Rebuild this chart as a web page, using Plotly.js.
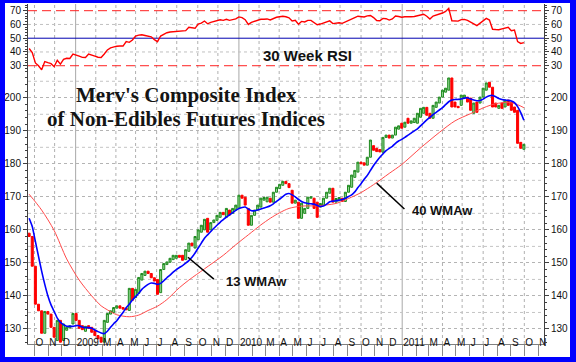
<!DOCTYPE html>
<html><head><meta charset="utf-8">
<script src="https://cdn.plot.ly/plotly-3.0.1.min.js"></script>
<style>
html,body{margin:0;padding:0;background:#fff;}
#frame{width:565px;height:354px;border-style:solid;border-color:#0000ff;border-width:3px 6px 5px 5px;background:#fff;}
#chart{width:565px;height:354px;}
</style></head><body><div id="frame"><div id="chart"></div></div>
<script>
// ---- data (weekly, first week ending 2008-09-19) ----
const firstWeek = '2008-09-19';
const opens = [159,158,149,137.5,135.5,128.7,135.3,134.5,130.5,126.5,
 132.6,126.5,129.6,130.3,131.5,134.7,132.6,131,129.3,131,
 130.5,129.5,128,127.5,126,132,134.5,135,136.3,137,
 136.5,136.3,135.6,142.3,139.5,140.8,144.8,146.2,147.5,146.8,
 145.5,145,141,148,149.5,150.2,151,151.4,152.3,152.3,
 151,153.5,156,154.5,157,159.3,160,163.5,160,162.2,
 162.9,163.8,165.3,163.8,166,165,166,166.5,170.5,169.9,
 166.5,161.4,164.4,166,166.9,169,168.5,169.6,168.4,171.4,
 172.5,173.5,174.7,174,172,168.1,168.4,163.5,165,166.5,
 169.6,169.6,168.4,166.9,167.5,169.6,171.1,172.6,168.4,168.8,
 169.6,168.6,171.4,172.9,175.9,177.5,180.5,180.3,179.6,182,
 185.5,184.7,184.3,183.5,188,188.7,187.8,188.7,190.5,192.3,
 191.1,193.8,192.3,192.5,192.3,194.1,195.3,197.1,195.3,193.8,
 197.1,198.4,200.2,201.7,202.3,206,198.7,197.4,197.7,199.9,
 200.2,199.9,195.3,198.7,198.4,200.2,202.3,204.7,203.2,198.4,
 196.8,198.4,197.2,199.3,198.7,197.2,196.2,186.5,184.4];
const closes = [158,149,137.5,135.5,128.7,135.3,134.5,130.5,127.5,132.6,
 126,131.5,130.5,131,134.7,132.6,130.2,129.8,130.8,130.2,
 129,128,127,126,132.6,134.7,135.5,136.5,137,136.3,
 136,135.8,142.3,138.7,142,145.6,146.8,147.5,146.8,145.5,
 144.5,140.5,148,149.8,150.3,151.4,152.3,152.3,151.7,150.8,
 154,156,155.2,158,160,161.4,163.2,159.3,162.2,163,
 164.4,165.3,164.6,166.5,164.5,166.5,167.5,170.5,169.6,167.5,
 161.4,164.4,166,167.5,169.6,169.8,169.9,168.4,171.4,172.9,
 173.8,174.7,174,172.8,168.1,169,163.5,168.1,166.5,169.9,
 170,166.5,163.8,168,169.6,171.4,172.6,168.4,169.5,169.8,
 168.6,171.4,173.5,176.6,178,180.5,180,179.6,182,187.2,
 184.1,183.7,183.6,188,188.7,187.8,188.7,191.1,191.5,190.8,
 192.6,192.3,193,193.8,195.3,196.8,197.1,194.7,193.8,197.7,
 198.7,200.2,202.3,202.9,206,197.2,197.2,197,200.8,200.8,
 198.7,196.2,198.4,195.6,200.2,202.9,204.5,203.2,197.2,197.2,
 197.7,196.8,199.3,197.7,196.2,195.6,186.2,184.7,185.9];
const wma13 = [163.5,161,156.5,152,147.5,143.5,140,137.3,135.3,133.3,
 132,131.3,130.8,130.8,130.8,131,131,130.6,130.4,130.4,
 130.2,129.7,129.2,128.8,128.6,129.3,130.5,131.6,132.5,133.8,
 135,136.4,137.5,138.8,139.8,140.8,142,142.8,143.5,143.9,
 143.8,143.5,143.8,144.6,145.5,146.3,147.2,148,148.6,149.2,
 149.9,150.7,151.7,153,154.5,156,157.5,158.5,159.5,160.5,
 161.4,162.3,163.1,163.9,164.5,165.2,165.9,166.5,166.8,166.9,
 166.3,165.8,165.8,166,166.3,166.6,166.9,167.3,167.9,168.6,
 169.3,170.1,170.8,171,170.6,170,169.2,168.6,168.2,168,
 167.9,167.8,167.4,167.1,167.2,167.8,168.5,168.7,168.8,169,
 169.2,169.6,170.1,170.6,171.5,172.8,174,175.3,176.5,178,
 179.5,180.8,182,183,184,184.7,185.3,186.2,186.9,187.4,
 188,188.7,189.3,190,190.6,191.5,192.4,193.3,194.1,194.9,
 195.6,196.3,197,197.9,198.8,199.3,199.5,199.5,199.6,199.9,
 200,199.6,199.3,199.1,199.2,199.6,200.2,200.6,200.7,200.3,
 199.8,199.5,199.3,199.2,199,198.5,197.3,195.5,193.2];
const wma40Week = [0,4,8,12,16,20,23,25,28,32,35,38,41,44,48,51,56,62,66,70,74,77,80,83,87,92,98,102,106,110,115,119,125,131,136,141,146,149,153,156,158];
const wma40 = [170.8,166,159.8,151.2,144.8,140,137,135.8,134.3,133.7,134.2,135.6,136.9,138.9,142.5,144.8,148.2,152.3,155.5,158.5,161.5,163.5,165.2,166.5,167.2,167.3,168,169.5,171.3,173.7,177.1,179.8,184.8,189.5,193,195.2,197.3,198.2,198.6,197.9,197];
const rsi30 = [42.5,39.5,32,30,27,33,32.2,31.5,29.3,34,
 31.2,34.6,35.4,35.3,38.5,38,37,36.1,36,38.5,
 37.5,37,36.2,36,38.5,41.5,43,43.8,44.2,44.3,
 44.3,47.5,47,48.7,51.5,52.2,52.5,52,51.5,51,
 49,47.5,51.6,53,54,54.5,54.7,55,55.5,55.3,
 55.5,57.9,57.5,57.2,60.3,61,62.5,60.5,61.5,62,
 62.8,63.4,63,63.8,63,63.5,64,65.5,65,63.5,
 60,61.5,62.2,62.8,63.8,63.8,64,63.3,64.5,65.2,
 65.6,66,65.6,64.8,62.6,63,60.2,62.2,61.8,63,
 63,61.6,59.8,60.3,61.2,62,62.6,60.6,61,61.2,
 60.8,62,62.8,64.3,65,66,65.7,65.4,66.2,66.5,
 65,62.8,62.7,64.4,64.2,63.2,64,66.1,65.8,65.2,
 65.6,65.4,65.6,65.8,66.4,66.9,67.4,66,64,66.1,
 66.8,67.6,68.3,69.5,71.7,62.7,62.5,62.4,63.5,63.7,
 63,61.5,60.5,59.2,61,62.7,64.4,63.2,56.5,56.3,
 56.2,56.8,57.2,57.9,55.5,56,47.5,46.2,46.8];
const rsiLevels = [30, 50, 70];
const rsiGrid = [40, 60];
const monthTickDates = ['2008-10-01','2008-11-01','2008-12-01','2009-01-01','2009-02-01','2009-03-01','2009-04-01','2009-05-01','2009-06-01','2009-07-01','2009-08-01','2009-09-01','2009-10-01','2009-11-01','2009-12-01','2010-01-01','2010-02-01','2010-03-01','2010-04-01','2010-05-01','2010-06-01','2010-07-01','2010-08-01','2010-09-01','2010-10-01','2010-11-01','2010-12-01','2011-01-01','2011-02-01','2011-03-01','2011-04-01','2011-05-01','2011-06-01','2011-07-01','2011-08-01','2011-09-01','2011-10-01','2011-11-01'];
const monthTickText = ['O','N','D','2009','','M','A','M','J','J','A','S','O','N','D','2010','','M','A','M','J','J','A','S','O','N','D','2011','','M','A','M','J','J','A','S','O','N'];
const yearGrid = ['2009-01-01','2010-01-01','2011-01-01'];
const dotGrid = ['2008-10-01','2008-11-15','2009-02-15','2009-04-01','2009-05-15','2009-07-01','2009-08-15','2009-10-01','2009-11-15','2010-02-15','2010-04-01','2010-05-15','2010-07-01','2010-08-15','2010-10-01','2010-11-15','2011-02-15','2011-04-01','2011-05-15','2011-07-01','2011-08-15','2011-10-01'];
const priceTicks = [130,140,150,160,170,180,190,200];
const priceHalfGrid = [135,145,155,165,175,185,195,205];
const rsiTicks = [30,40,50,60,70];

// ---- build ----
function weekDate(i){
  const t = Date.UTC(2008,8,19) + i*7*86400000;
  return new Date(t).toISOString().slice(0,10);
}
const dates = opens.map((_,i)=>weekDate(i));
const highs = opens.map((o,i)=>Math.max(o,closes[i]));
const lows = opens.map((o,i)=>Math.min(o,closes[i]));
const wma40Dates = wma40Week.map(weekDate);

const font = 'Liberation Sans, Arial, sans-serif';
const tickFont = {family: font, size: 10, color: '#111'};

const traces = [
  {type:'candlestick', x:dates, open:opens, high:highs, low:lows, close:closes,
   xaxis:'x', yaxis:'y', whiskerwidth:0, hoverinfo:'skip',
   increasing:{line:{color:'#1f8a1f', width:1}, fillcolor:'#8fd48f'},
   decreasing:{line:{color:'#ff0000', width:1}, fillcolor:'#ff0000'}},
  {type:'scatter', mode:'lines', x:wma40Dates, y:wma40, xaxis:'x', yaxis:'y',
   line:{color:'#ff4a4a', width:1, shape:'spline', smoothing:0.8}, hoverinfo:'skip'},
  {type:'scatter', mode:'lines', x:dates, y:wma13, xaxis:'x', yaxis:'y',
   line:{color:'#0000ff', width:1.6, shape:'spline', smoothing:0.6}, hoverinfo:'skip'},
  {type:'scatter', mode:'lines', x:dates, y:rsi30, xaxis:'x', yaxis:'y2',
   line:{color:'#ff0000', width:1.4}, hoverinfo:'skip'},
  {type:'scatter', mode:'markers', x:[dates[0]], y:[closes[0]], xaxis:'x', yaxis:'y3',
   marker:{opacity:0}, hoverinfo:'skip'},
  {type:'scatter', mode:'markers', x:[dates[0]], y:[rsi30[0]], xaxis:'x', yaxis:'y4',
   marker:{opacity:0}, hoverinfo:'skip'}
];

const split = 0.8029;
const mainRange = [125.45, 208.1];
const rsiRange = [26.15, 74.87];
function yAx(extra){
  return Object.assign({
    showline:true, linecolor:'#404040', linewidth:1, zeroline:false,
    ticks:'outside', ticklen:4, tickcolor:'#404040', tickfont:tickFont,
    tickmode:'array', fixedrange:true,
    minor:{dtick:2, ticks:'outside', ticklen:2, tickcolor:'#404040', showgrid:false}
  }, extra);
}

const shapes = [];
dotGrid.forEach(d=>shapes.push({type:'line', xref:'x', yref:'paper', x0:d, x1:d, y0:0, y1:1, layer:'below', line:{color:'#b0b0b0', width:1, dash:'dot'}}));
yearGrid.forEach(d=>shapes.push({type:'line', xref:'x', yref:'paper', x0:d, x1:d, y0:0, y1:1, layer:'below', line:{color:'#a8a8a8', width:1}}));
priceHalfGrid.forEach(v=>shapes.push({type:'line', xref:'paper', yref:'y', x0:0, x1:1, y0:v, y1:v, layer:'below', line:{color:'#c4c4c4', width:1, dash:'dot'}}));
rsiGrid.forEach(v=>shapes.push({type:'line', xref:'paper', yref:'y2', x0:0, x1:1, y0:v, y1:v, layer:'below', line:{color:'#c0c0c0', width:1, dash:'dot'}}));
rsiLevels.forEach(v=>shapes.push({type:'line', xref:'paper', yref:'y2', x0:0, x1:1, y0:v, y1:v, layer:'below',
  line: v===50 ? {color:'#0000b0', width:1} : {color:'#ff2020', width:1, dash:'9px,5px'}}));
// pointer lines for the moving-average labels
shapes.push({type:'line', xref:'x', yref:'y', x0:'2009-09-09', y0:151.7, x1:'2009-11-06', y1:145.1, line:{color:'#000', width:1.5}});
shapes.push({type:'line', xref:'x', yref:'y', x0:'2010-11-05', y0:174.15, x1:'2011-01-06', y1:166.3, line:{color:'#000', width:1.5}});

const serif = {family:'Liberation Serif, Times New Roman, serif', size:21, color:'#141414', weight:'bold'};
const annotations = [
  {xref:'paper', yref:'paper', x:0.3081, y:0.7338, xanchor:'center', yanchor:'middle', text:"Merv's Composite Index", showarrow:false, font:serif},
  {xref:'paper', yref:'paper', x:0.3062, y:0.6603, xanchor:'center', yanchor:'middle', text:'of Non-Edibles Futures Indices', showarrow:false, font:serif},
  {xref:'paper', yref:'paper', x:0.5417, y:0.8485, xanchor:'center', yanchor:'middle', text:'30 Week RSI', showarrow:false,
   font:{family:font, size:15, color:'#111', weight:'bold'}},
  {xref:'paper', yref:'paper', x:0.3798, y:0.1824, xanchor:'left', yanchor:'middle', text:'13 WMAw', showarrow:false,
   font:{family:font, size:13, color:'#111', weight:'bold'}},
  {xref:'paper', yref:'paper', x:0.7403, y:0.3912, xanchor:'left', yanchor:'middle', text:'40 WMAw', showarrow:false,
   font:{family:font, size:13, color:'#111', weight:'bold'}}
];

const layout = {
  width:565, height:354,
  margin:{l:23, r:26, t:1, b:13},
  paper_bgcolor:'#ffffff', plot_bgcolor:'#ffffff',
  showlegend:false, boxgap:0.35, boxgroupgap:0,
  xaxis:{type:'date', range:['2008-09-16 12:00','2011-11-14'], anchor:'y',
    tickmode:'array', tickvals:monthTickDates, ticktext:monthTickText, tickangle:0,
    ticks:'outside', ticklen:11, tickcolor:'#8a8a8a',
    ticklabelposition:'outside right', ticklabelstandoff:-11,
    tickfont:tickFont, showgrid:false, zeroline:false,
    showline:true, linecolor:'#808080', linewidth:1,
    rangeslider:{visible:false}, fixedrange:true},
  yaxis: yAx({domain:[0,split], range:mainRange, tickvals:priceTicks, anchor:'x', side:'left',
    showgrid:true, gridcolor:'#b4b4b4', griddash:'dot'}),
  yaxis3: yAx({overlaying:'y', range:mainRange, tickvals:priceTicks, anchor:'x', side:'right', showgrid:false}),
  yaxis2: yAx({domain:[split,1], range:rsiRange, tickvals:rsiTicks, anchor:'x', side:'left', showgrid:false}),
  yaxis4: yAx({overlaying:'y2', range:rsiRange, tickvals:rsiTicks, anchor:'x', side:'right', showgrid:false}),
  shapes:shapes, annotations:annotations
};

Plotly.newPlot('chart', traces, layout, {displayModeBar:false, staticPlot:true});
</script>
</body></html>
